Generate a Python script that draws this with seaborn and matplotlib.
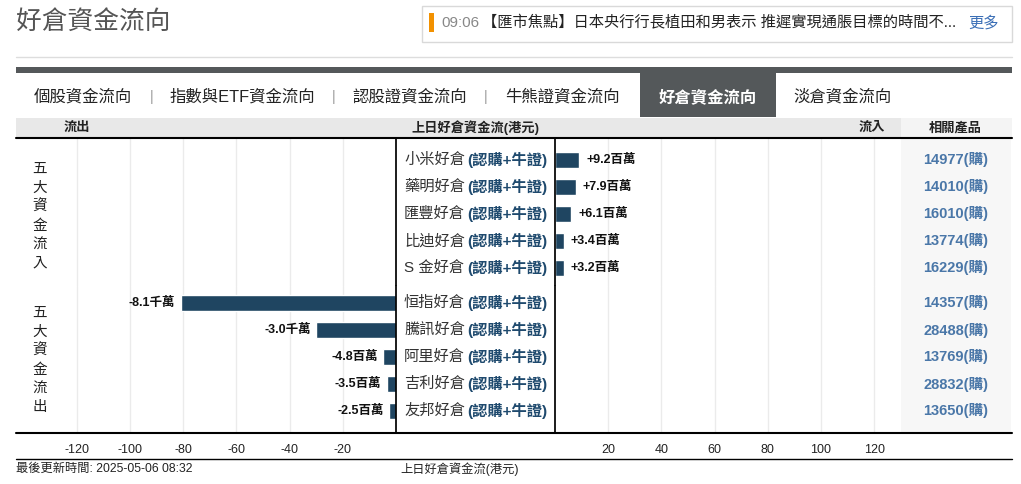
import matplotlib
matplotlib.use("Agg")
import matplotlib.pyplot as plt
import matplotlib.transforms as mtrans
from matplotlib.patches import Rectangle
from matplotlib.lines import Line2D
import seaborn as sns

# ─── DATA (HK$ millions) ──────────────────────────────────────────────────────
inflow_names   = ["小米好倉", "藥明好倉", "匯豐好倉", "比迪好倉", "S 金好倉"]
inflow_values  = [9.2, 7.9, 6.1, 3.4, 3.2]
inflow_codes   = ["14977(購)", "14010(購)", "16010(購)", "13774(購)", "16229(購)"]
outflow_names  = ["恒指好倉", "騰訊好倉", "阿里好倉", "吉利好倉", "友邦好倉"]
outflow_values = [-81, -30, -4.8, -3.5, -2.5]
outflow_codes  = ["14357(購)", "28488(購)", "13769(購)", "28832(購)", "13650(購)"]
left_ticks  = [-120, -100, -80, -60, -40, -20]
right_ticks = [20, 40, 60, 80, 100, 120]
tabs = ["個股資金流向", "指數與ETF資金流向", "認股證資金流向", "牛熊證資金流向",
        "好倉資金流向", "淡倉資金流向"]
active_tab = "好倉資金流向"
news_time = "09:06"
news_text = "【匯市焦點】日本央行行長植田和男表示 推遲實現通脹目標的時間不..."
updated = "最後更新時間: 2025-05-06 08:32"


def fmt(v):
    return f"{v / 10:+.1f}千萬" if abs(v) >= 10 else f"{v:+.1f}百萬"


# ─── STYLE ────────────────────────────────────────────────────────────────────
sns.set_theme(style="white")
plt.rcParams["font.family"] = ["Liberation Sans", "Noto Sans CJK TC", "DejaVu Sans"]
plt.rcParams["axes.unicode_minus"] = False

BAR = "#1f4561"
DARK = "#54585a"
BLUE = "#1f4a6e"
CODE = "#4a77a8"
GRID = "#ebebeb"

W, H = 1021, 484
fig = plt.figure(figsize=(W / 100, H / 100), dpi=100)
fig.patch.set_facecolor("white")


def fx(x):
    return x / W


def fy(y):
    return 1 - y / H


def rect(x0, y0, x1, y1, **kw):
    fig.add_artist(Rectangle((fx(x0), fy(y1)), (x1 - x0) / W, (y1 - y0) / H,
                             transform=fig.transFigure, **kw))


def hline(y, x0, x1, **kw):
    fig.add_artist(Line2D([fx(x0), fx(x1)], [fy(y), fy(y)], transform=fig.transFigure, **kw))


def text(x, y, s, **kw):
    kw.setdefault("va", "center")
    fig.text(fx(x), fy(y), s, **kw)


# ─── PAGE HEADER ──────────────────────────────────────────────────────────────
text(16, 22, "好倉資金流向", fontsize=18.5, color="#555555")
rect(422, 6, 1012, 42, facecolor="white", edgecolor="#d9d9d9", lw=1)
rect(429, 13, 434, 32, facecolor="#f29100", edgecolor="none")
text(441, 23, news_time, fontsize=11, color="#888888")
text(482, 23, news_text, fontsize=11, color="#222222")
text(999, 23, "更多", fontsize=11, color="#3b6fb6", ha="right")
hline(57, 16, 1012, color="#dddddd", lw=1)

# tabs
rect(16, 67, 1012, 73, facecolor=DARK, edgecolor="none")
rect(640, 73, 776, 117, facecolor=DARK, edgecolor="none")
tab_x = [83, 242, 410, 562, 708, 843]
for t, x in zip(tabs, tab_x):
    active = t == active_tab
    text(x, 97, t, fontsize=11.8, ha="center", color="white" if active else "#222222",
         fontweight="bold" if active else "normal")
for x in [152, 334, 486]:
    text(x, 97, "|", fontsize=10, ha="center", color="#999999")

# table header
rect(16, 118, 901, 137, facecolor="#e8e8e8", edgecolor="none")
rect(901, 118, 1012, 137, facecolor="#f4f4f4", edgecolor="none")
for x, s in [(77, "流出"), (475, "上日好倉資金流(港元)"), (872, "流入"), (955, "相關產品")]:
    text(x, 128, s, fontsize=9.5, ha="center", fontweight="bold", color="#222222")
rect(901, 138, 1011, 433, facecolor="#f7f7f7", edgecolor="none")


# ─── CHART AXES ───────────────────────────────────────────────────────────────
def ax_at(x0, y0, x1, y1):
    return fig.add_axes([fx(x0), fy(y1), (x1 - x0) / W, (y1 - y0) / H])


mid = 285.5
ax_tl = ax_at(16, 138, 396, mid)
ax_bl = ax_at(16, mid, 396, 433)
ax_tr = ax_at(555, 138, 901, mid)
ax_br = ax_at(555, mid, 901, 433)

sns.barplot(x=outflow_values, y=outflow_names, ax=ax_bl, color=BAR, saturation=1,
            width=16 / 27, orient="h")
sns.barplot(x=inflow_values, y=inflow_names, ax=ax_tr, color=BAR, saturation=1,
            width=16 / 27, orient="h")

ax_bl.bar_label(ax_bl.containers[0], labels=[fmt(v) for v in outflow_values],
                padding=4, fontsize=9, fontweight="bold", color="#111111")
ax_tr.bar_label(ax_tr.containers[0], labels=[fmt(v) for v in inflow_values],
                padding=5, fontsize=9, fontweight="bold", color="#111111")

for ax, side, top in [(ax_tl, "L", True), (ax_bl, "L", False),
                      (ax_tr, "R", True), (ax_br, "R", False)]:
    ax.set_facecolor("none")
    if side == "L":
        ax.set_xlim(-380 / 2.66, 0)
        ax.set_xticks(left_ticks)
        ax.spines["right"].set_visible(True)
        ax.spines["left"].set_visible(False)
        ax.spines["right"].set_color("black")
    else:
        ax.set_xlim(0, 346 / 2.66)
        ax.set_xticks(right_ticks)
        ax.spines["left"].set_visible(True)
        ax.spines["right"].set_visible(False)
        ax.spines["left"].set_color("black")
    for s in ["top", "bottom"]:
        ax.spines[s].set_visible(False)
    ax.grid(axis="x", color=GRID, lw=1)
    ax.set_axisbelow(True)
    if top:
        ax.set_ylim(4 + 17.5 / 27, -22 / 27)
        ax.tick_params(axis="x", labelbottom=False, length=0)
    else:
        ax.set_ylim(4 + 22 / 27, -17.5 / 27)
        ax.tick_params(axis="x", length=0, pad=8, labelsize=9, labelcolor="#222222")
    ax.set_yticks([])
    ax.set_xlabel("")
    ax.set_ylabel("")

# centre labels and related products
for ax, names, codes in [(ax_tr, inflow_names, inflow_codes),
                         (ax_bl, outflow_names, outflow_codes)]:
    tr = mtrans.blended_transform_factory(fig.transFigure, ax.transData)
    for i, (n, c) in enumerate(zip(names, codes)):
        fig.text(fx(404), i, n, transform=tr, va="center", fontsize=11, color="#333333")
        fig.text(fx(547), i, "(認購+牛證)", transform=tr, va="center", ha="right",
                 fontsize=11, color=BLUE, fontweight="bold")
        fig.text(fx(956), i, c, transform=tr, va="center", ha="center", fontsize=10.5,
                 color=CODE, fontweight="bold")

# vertical group captions
text(40, 216, "\n".join("五大資金流入"), fontsize=10.5, ha="center", linespacing=1.45,
     color="#222222")
text(40, 360, "\n".join("五大資金流出"), fontsize=10.5, ha="center", linespacing=1.45,
     color="#222222")

# rules and footer
hline(138, 16, 1012, color="black", lw=1.5)
hline(433, 16, 1012, color="black", lw=1.5)
hline(459, 16, 1012, color="black", lw=1)
text(16, 469, updated, fontsize=8.8, color="#222222")
text(400, 469, "上日好倉資金流(港元)", fontsize=8.8, color="#222222")

fig.savefig("out.png", dpi=100)
